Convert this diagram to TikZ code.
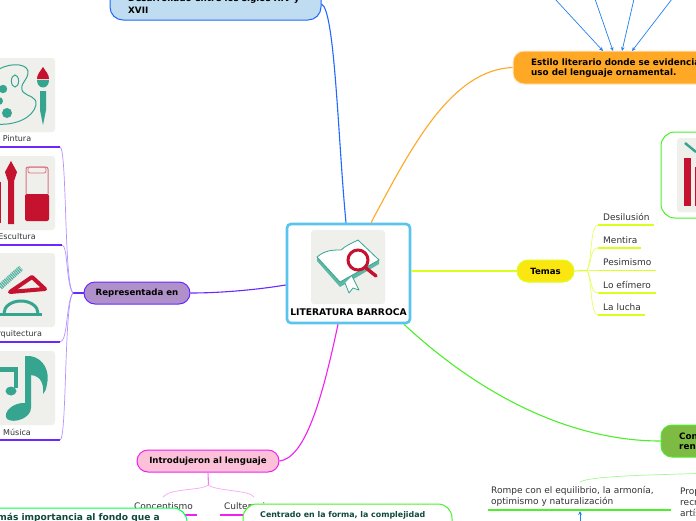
\documentclass[tikz,border=0pt]{standalone}
\usepackage{fontspec}
\setmainfont{DejaVu Sans}
\usepackage{xcolor}
\usetikzlibrary{arrows.meta,positioning}
\definecolor{rootblue}{HTML}{5BC4EE}
\definecolor{tilegray}{HTML}{EFEFEB}
\definecolor{iconteal}{HTML}{35A58F}
\definecolor{iconred}{HTML}{C4122F}
\definecolor{deepgreen}{HTML}{0F4A3C}
\definecolor{linkblue}{HTML}{2068FF}
\definecolor{linkorange}{HTML}{FFA826}
\definecolor{linkgreen}{HTML}{4CF02A}
\definecolor{linklime}{HTML}{D8FF20}
\definecolor{linkviolet}{HTML}{6A28FF}
\definecolor{linkpink}{HTML}{F020F0}
\definecolor{arrowblue}{HTML}{2080F0}
\definecolor{erafill}{HTML}{C0DCF0}
\definecolor{temafill}{HTML}{FCE60F}
\definecolor{contrastfill}{HTML}{7DBB42}
\definecolor{repfill}{HTML}{B090C8}
\definecolor{lengfill}{HTML}{FCC0D8}

\begin{document}
\begin{tikzpicture}[x=1pt, y=-1pt,
    topic/.style={rounded corners=11pt, line width=1pt, align=center,
                 font=\fontsize{8.6}{10}\selectfont\bfseries, inner sep=0pt},
    sidebox/.style={rounded corners=14pt, line width=1pt, draw=linkgreen, fill=white,
                 inner sep=0pt},
    toptext/.style={anchor=west, align=left, inner sep=0pt,
                 font=\fontsize{8.8}{10.3}\selectfont\bfseries},
    subtext/.style={anchor=west, align=left, inner sep=0pt, text=black!80,
                 font=\fontsize{9}{11}\selectfont},
    tilelabel/.style={anchor=center, inner sep=0pt, text=black!80,
                 font=\fontsize{8}{9}\selectfont},
    tile/.style={fill=tilegray, rounded corners=3pt},
    link/.style={line width=1.1pt},
    twig/.style={line width=0.7pt},
    rule/.style={line width=1.2pt},
    pointer/.style={-{Stealth[length=4pt,width=3.6pt]}, draw=arrowblue, line width=0.7pt}]
  \clip (0,0) rectangle (696,520);
  \fill[white] (0,0) rectangle (696,520);

  \node[draw=rootblue, line width=2.6pt, fill=white, rounded corners=4pt,
        minimum width=123pt, minimum height=99pt, inner sep=0pt] (root) at (348.5,273.5) {};
  \fill[tile] (311,230) rectangle (385,304);
  \node[toptext, anchor=center, font=\fontsize{9.2}{11}\selectfont\bfseries] (rootlabel) at (348.5,312) {LITERATURA BARROCA};
  \fill[iconteal!80] (317,257) -- (317,261) -- (340,287) -- (379,264) -- (379,259) -- cycle;
  \draw[iconteal, line width=0.8pt, line join=round, fill=white]
    (317,257) .. controls (325,250) and (333,250) .. (341,250)
    .. controls (345,246) and (352,243) .. (358,240) -- (379,260) -- (340,282) -- cycle;
  \draw[iconteal, line width=0.8pt, line join=round, fill=white]
    (345,283) -- (349,293) -- (353,288) -- (359,290) -- (352,276);
  \draw[iconred, line width=3pt, fill=white] (358,260) circle (10pt);
  \draw[iconred, line width=3.4pt, line cap=round] (366,268) -- (376,276);

  \node[topic, draw=linkblue, fill=erafill, rounded corners=13pt,
        minimum width=211pt, minimum height=45pt] (era) at (215.5,-2.5) {};
  \node[toptext] (eralabel) at (128,-1) {Desarrollado entre los siglos XIV y};
  \node[toptext] (eralabelb) at (128,10) {XVII};

  \node[topic, draw=linkorange!30, fill=linkorange, minimum width=247pt, minimum height=33pt] (style) at (636.5,67.5) {};
  \node[toptext] (stylelabel) at (531,68) {Estilo literario donde se evidencia el\\uso del lenguaje ornamental.};

  \coordinate (srca) at (555,-1);
  \coordinate (srcb) at (595,-1);
  \coordinate (srcc) at (634,-1);
  \coordinate (srcd) at (672,-1);
  \draw[pointer] (srca) -- (603,51);
  \draw[pointer] (srcb) -- (613,51);
  \draw[pointer] (srcc) -- (622,51);
  \draw[pointer] (srcd) -- (632,51);

  \node[sidebox, minimum width=99pt, minimum height=86pt] (chart) at (710.5,175) {};
  \fill[tile] (677,138) rectangle (760,212);
  \draw[iconteal, line width=2.4pt] (685,143) -- (696,152);
  \fill[iconred] (684,158) rectangle (691,206);
  \fill[iconred] (695,167) rectangle (700,206);

  \node[topic, draw=linklime, fill=temafill, minimum width=57pt, minimum height=22pt] (temas) at (545.5,271) {Temas};
  \coordinate (temasfork) at (587,270.5);
  \node[subtext] (tema1) at (603,217) {Desilusión};
  \node[subtext] (tema2) at (603,240) {Mentira};
  \node[subtext] (tema3) at (603,262) {Pesimismo};
  \node[subtext] (tema4) at (603,285) {Lo efímero};
  \node[subtext] (tema5) at (603,307) {La lucha};
  \draw[link, linklime] (temas.east) -- (temasfork);
  \draw[twig, linklime!70] (temasfork) .. controls (592,262) and (590,225) .. (598,225);
  \draw[twig, linklime!70] (temasfork) .. controls (592,262) and (590,248) .. (598,248);
  \draw[twig, linklime!70] (temasfork) -- (598,270.5);
  \draw[twig, linklime!70] (temasfork) .. controls (592,278) and (590,293) .. (598,293);
  \draw[twig, linklime!70] (temasfork) .. controls (592,278) and (590,315) .. (598,315);
  \draw[rule, linklime] (598,225) -- (654,225);
  \draw[rule, linklime] (598,248) -- (641,248);
  \draw[rule, linklime] (598,270.5) -- (656,270.5);
  \draw[rule, linklime] (598,293) -- (656,293);
  \draw[rule, linklime] (598,315) -- (645,315);

  \node[topic, draw=linkgreen, fill=contrastfill, minimum width=99pt, minimum height=32pt] (contrast) at (710.5,441) {};
  \node[toptext] (contrastlabel) at (679,441) {Con\\ren};
  \coordinate (contrastdown) at (697,473.5);
  \coordinate (rompeup) at (580,482);
  \draw[twig, linkgreen!50] (contrastdown) .. controls (650,475) and (590,476) .. (rompeup);
  \node[subtext] (rompe) at (491,496.5) {Rompe con el equilibrio, la armonía,\\optimismo y naturalización};
  \node[subtext] (prop) at (680,502) {Prop\\recr\\artís};
  \draw[rule, linkgreen] (488,510) -- (671,510);
  \coordinate (rompefoot) at (580,521);
  \draw[pointer] (rompefoot) -- (580,511);

  \node[topic, draw=linkviolet, fill=repfill, minimum width=106pt, minimum height=22pt] (rep) at (137,293) {Representada en};
  \coordinate (repfork) at (73,293);
  \draw[link, linkviolet] (rep.west) -- (repfork);
  \fill[tile] (-20,58) rectangle (55,132);
  \fill[tile] (-20,156) rectangle (55,230);
  \fill[tile] (-20,253) rectangle (55,327);
  \fill[tile] (-20,351) rectangle (55,425);
  \node[tilelabel] (pintura) at (17,139) {Pintura};
  \node[tilelabel] (escultura) at (17,237) {Escultura};
  \node[tilelabel] (arquitectura) at (17,334) {Arquitectura};
  \node[tilelabel] (musica) at (17,432) {Música};
  \draw[twig, linkviolet!50] (repfork) .. controls (64,285) and (67,147) .. (60,147);
  \draw[twig, linkviolet!50] (repfork) .. controls (66,285) and (68,245) .. (62,245);
  \draw[twig, linkviolet!50] (repfork) .. controls (66,301) and (68,342) .. (60,342);
  \draw[twig, linkviolet!50] (repfork) .. controls (64,301) and (67,440) .. (60,440);
  \draw[rule, linkviolet] (0,147) -- (60,147);
  \draw[rule, linkviolet] (0,245) -- (62,245);
  \draw[rule, linkviolet] (0,342) -- (60,342);
  \draw[rule, linkviolet] (0,440) -- (60,440);

  \draw[iconteal, line width=1pt] (-5,72) .. controls (5,63) and (26,62) .. (28,71)
    .. controls (29,80) and (18,84) .. (23,92) .. controls (28,97) and (37,96) .. (36,105)
    .. controls (33,118) and (15,126) .. (-5,124);
  \draw[iconteal, line width=1pt] (15,81) ellipse (3.6pt and 6pt);
  \fill[iconteal] (3,89) circle (4.2pt);
  \fill[iconteal] (-1,101) circle (4pt);
  \fill[iconteal] (7,113) circle (5pt);
  \fill[iconred] (43,67) .. controls (46,72) and (49,74) .. (49,79) -- (37,79) .. controls (37,74) and (40,72) .. (43,67);
  \fill[iconteal] (37,80) .. controls (37,90) and (49,90) .. (49,80) -- cycle;
  \fill[iconteal] (40,91) -- (46,91) -- (46,110) -- (43,125) -- (40,110) -- cycle;

  \fill[iconred] (-3,182) rectangle (1,223);
  \fill[iconred] (11,161) -- (17,172) -- (14,181) -- (14,224) -- (8,224) -- (8,181) -- (5,172) -- cycle;
  \draw[iconred!60, line width=1pt, rounded corners=2pt] (26,194) -- (26,167) -- (48,167) -- (48,194);
  \draw[iconred!60, line width=0.8pt, rounded corners=2pt] (28,167) rectangle (46,173);
  \fill[iconred, rounded corners=2pt] (25,194) rectangle (49,221);

  \draw[iconteal!85, line width=6pt, dash pattern=on 1.2pt off 0.8pt] (0,287) -- (21,268);
  \draw[iconred, line width=4pt, line join=round] (32,277) -- (45,289) -- (10,292) -- cycle;
  \draw[iconteal, line width=3pt] (4,313) arc[start angle=180, end angle=0, x radius=17pt, y radius=12pt];
  \draw[iconteal, line width=3pt] (0,314.5) -- (42,314.5);

  \fill[iconteal] (25,356) -- (30,356) .. controls (44,358) and (50,372) .. (47,384)
    .. controls (46,390) and (45,392) .. (43,394) .. controls (44,384) and (41,376) .. (31,375)
    -- (31,408) .. controls (31,418) and (14,424) .. (7,419) .. controls (2,412) and (14,402) .. (25,403) -- cycle;
  \fill[iconteal] (-5,367) rectangle (18,372);
  \fill[iconteal] (14,367) rectangle (18,388);
  \fill[iconteal] (11,391) ellipse (5.5pt and 4.5pt);

  \node[topic, draw=linkpink, fill=lengfill, minimum width=142pt, minimum height=22pt] (lenguaje) at (208,461) {Introdujeron al lenguaje};
  \coordinate (lengfork) at (208.5,485);
  \draw[link, linkpink!60] (lenguaje.south) -- (lengfork);
  \draw[twig, linkpink!40] (lengfork) .. controls (200,491) and (170,488) .. (163,497);
  \draw[twig, linkpink!40] (lengfork) .. controls (215,491) and (250,490) .. (254,497);
  \node[subtext] (concept) at (134,506) {Concentismo};
  \node[subtext] (culter) at (224,506) {Culteranismo};
  \draw[rule, linkpink] (130,515) -- (197,515);
  \draw[rule, linkpink] (220,515) -- (250,515);

  \node[sidebox, draw=green!70!cyan, minimum width=217pt, minimum height=52pt] (fondo) at (78.5,534) {};
  \node[toptext, anchor=east, text=deepgreen, font=\fontsize{9.1}{11}\selectfont\bfseries] (fondolabel) at (160,518) {Da más importancia al fondo que a};
  \node[sidebox, minimum width=209pt, minimum height=56pt] (forma) at (347.5,532) {};
  \node[toptext, text=deepgreen, font=\fontsize{7.9}{10}\selectfont\bfseries] (formalabel) at (260,515) {Centrado en la forma, la complejidad};

  \draw[link, linkblue] (era.east |- 0,4) .. controls (335,10) and (338,140) .. ([xshift=-2.5pt]root.north);
  \draw[link, linkorange] (style.west) .. controls (450,70) and (410,150) .. ([xshift=22.5pt]root.north);
  \draw[link, linklime] ([yshift=2.5pt]root.east) -- (temas.west);
  \draw[link, linkgreen] ([xshift=55.5pt]root.south) .. controls (480,395) and (570,441) .. (contrast.west);
  \draw[link, linkviolet] (rep.east) .. controls (220,293) and (255,290) .. ([yshift=-11.5pt]root.west);
  \draw[link, linkpink] (lenguaje.east) .. controls (305,458) and (322,400) .. ([xshift=-10.5pt]root.south);
\end{tikzpicture}
\end{document}
